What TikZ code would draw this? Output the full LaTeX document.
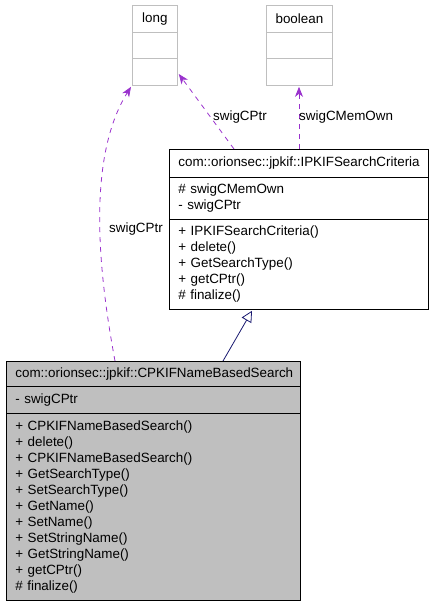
\documentclass[tikz,border=0pt]{standalone}
\usepackage{fontspec}
\setmainfont{Liberation Sans}
\usetikzlibrary{arrows.meta,calc}
\definecolor{dep}{HTML}{9A32CD}
\definecolor{inh}{HTML}{191970}
\definecolor{lgray}{HTML}{BFBFBF}
\tikzset{
  comp/.style={draw, anchor=north west, inner xsep=9pt, inner ysep=0pt, align=left,
    font=\fontsize{13.4}{16}\selectfont, line width=0.8pt},
  gcomp/.style={comp, draw=lgray, align=center},
  depline/.style={draw=dep, dash pattern=on 5pt off 5pt, line width=0.8pt,
    -{Stealth[length=10pt,width=8pt,inset=3pt]}},
  inhline/.style={draw=inh, line width=0.8pt, -{Triangle[open,length=11pt,width=11pt,fill=white]}},
  lbl/.style={font=\fontsize{13.4}{16}\selectfont, inner sep=0pt}
}
\begin{document}
\begin{tikzpicture}[x=1pt,y=-1pt]
\useasboundingbox (0,0) rectangle (433,605);
% long
\node[gcomp, minimum width=45pt, minimum height=27pt] (longT) at (132,5) {long};
\node[gcomp, minimum width=45pt, minimum height=26pt] (longA) at (132,32) {};
\node[gcomp, minimum width=45pt, minimum height=27pt] (longM) at (132,58) {};
% boolean
\node[gcomp, minimum width=66pt, minimum height=27pt] (boolT) at (266,5) {boolean};
\node[gcomp, minimum width=66pt, minimum height=26pt] (boolA) at (266,32) {};
\node[gcomp, minimum width=66pt, minimum height=27pt] (boolM) at (266,58) {};
% IPKIFSearchCriteria
\node[comp, minimum width=259pt, text width=241pt, minimum height=28pt] (ipT) at (169,149) {com::orionsec::jpkif::IPKIFSearchCriteria};
\node[comp, minimum width=259pt, text width=241pt, minimum height=42pt] (ipA) at (169,177) {\# swigCMemOwn\\- swigCPtr};
\node[comp, minimum width=259pt, text width=241pt, minimum height=90pt] (ipM) at (169,219) {+ IPKIFSearchCriteria()\\+ delete()\\+ GetSearchType()\\+ getCPtr()\\\# finalize()};
% CPKIFNameBasedSearch
\node[comp, fill=lgray, minimum width=294pt, text width=276pt, minimum height=25pt] (cpT) at (6,361) {com::orionsec::jpkif::CPKIFNameBasedSearch};
\node[comp, fill=lgray, minimum width=294pt, text width=276pt, minimum height=27pt] (cpA) at (6,386) {- swigCPtr};
\node[comp, fill=lgray, minimum width=294pt, text width=276pt, minimum height=187pt] (cpM) at (6,413) {+ CPKIFNameBasedSearch()\\+ delete()\\+ CPKIFNameBasedSearch()\\+ GetSearchType()\\+ SetSearchType()\\+ GetName()\\+ SetName()\\+ SetStringName()\\+ GetStringName()\\+ getCPtr()\\\# finalize()};
% edges
\draw[depline] ($(cpT.north west)+(109,0)$) .. controls (100,280) and (85,160) .. ($(longM.south west)+(-1,1)$);
\node[lbl] (l1) at (136,229) {swigCPtr};
\draw[depline] ($(ipT.north west)+(65,0)$) -- ($(longM.north east)+(1,16)$);
\node[lbl] (l2) at (240,117) {swigCPtr};
\draw[depline] ($(ipT.north west)+(130,0)$) -- ($(boolM.south west)+(33,1)$);
\node[lbl, anchor=west] (l3) at (299,117) {swigCMemOwn};
\draw[inhline] ($(cpT.north west)+(217,0)$) -- ($(ipM.south west)+(83,1)$);
\end{tikzpicture}
\end{document}
